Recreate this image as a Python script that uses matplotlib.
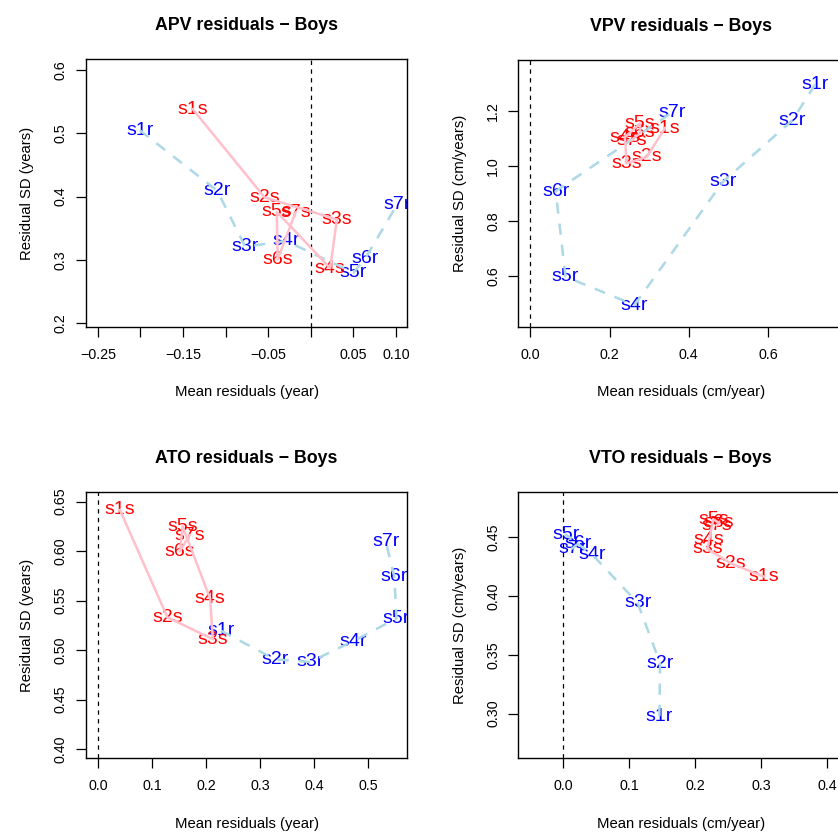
import matplotlib
matplotlib.use("Agg")
import matplotlib.pyplot as plt

plt.rcParams['font.family'] = ['Liberation Sans', 'DejaVu Sans']

labels_r = ["s1r", "s2r", "s3r", "s4r", "s5r", "s6r", "s7r"]
labels_s = ["s1s", "s2s", "s3s", "s4s", "s5s", "s6s", "s7s"]

# APV
apv_r_x = [-0.201, -0.110, -0.077, -0.029, 0.050, 0.064, 0.101]
apv_r_y = [0.505, 0.4095, 0.321, 0.330, 0.280, 0.303, 0.387]
apv_s_x = [-0.1386, -0.0544, 0.0305, 0.0227, -0.040, -0.039, -0.018]
apv_s_y = [0.538, 0.399, 0.364, 0.287, 0.376, 0.301, 0.375]

# VPV
vpv_r_x = [0.719, 0.662, 0.486, 0.263, 0.089, 0.064, 0.358]
vpv_r_y = [1.297, 1.167, 0.942, 0.493, 0.596, 0.908, 1.195]
vpv_s_x = [0.340, 0.294, 0.243, 0.239, 0.277, 0.277, 0.256]
vpv_s_y = [1.138, 1.033, 1.009, 1.105, 1.155, 1.120, 1.094]

# ATO
ato_r_x = [0.227, 0.327, 0.392, 0.472, 0.552, 0.548, 0.532]
ato_r_y = [0.5196, 0.4906, 0.488, 0.509, 0.532, 0.574, 0.610]
ato_s_x = [0.040, 0.128, 0.212, 0.207, 0.156, 0.151, 0.169]
ato_s_y = [0.6416, 0.533, 0.511, 0.552, 0.625, 0.600, 0.616]

# VTO
vto_r_x = [0.1455, 0.1465, 0.1126, 0.044, 0.0035, 0.0227, 0.0126]
vto_r_y = [0.298, 0.343, 0.394, 0.435, 0.452, 0.4446, 0.440]
vto_s_x = [0.304, 0.2535, 0.218, 0.221, 0.227, 0.236, 0.232]
vto_s_y = [0.4163, 0.4277, 0.440, 0.448, 0.465, 0.462, 0.460]

panels = [
    dict(title="APV residuals \u2212 Boys", xlabel="Mean residuals (year)", ylabel="Residual SD (years)",
         rx=apv_r_x, ry=apv_r_y, sx=apv_s_x, sy=apv_s_y,
         xlim=(-0.2639, 0.1128), ylim=(0.1947, 0.6168),
         xticks=[-0.25, -0.20, -0.15, -0.10, -0.05, 0.0, 0.05, 0.10],
         xticklabels=["\u22120.25", "", "\u22120.15", "", "\u22120.05", "", "0.05", "0.10"],
         yticks=[0.2, 0.3, 0.4, 0.5, 0.6], yticklabels=["0.2", "0.3", "0.4", "0.5", "0.6"],
         rect=[86, 59.3, 321, 267.4]),
    dict(title="VPV residuals \u2212 Boys", xlabel="Mean residuals (cm/year)", ylabel="Residual SD (cm/years)",
         rx=vpv_r_x, ry=vpv_r_y, sx=vpv_s_x, sy=vpv_s_y,
         xlim=(-0.0303, 0.790), ylim=(0.414, 1.386),
         xticks=[0.0, 0.2, 0.4, 0.6], xticklabels=["0.0", "0.2", "0.4", "0.6"],
         yticks=[0.6, 0.8, 1.0, 1.2], yticklabels=["0.6", "0.8", "1.0", "1.2"],
         rect=[518.3, 60, 325, 266.7]),
    dict(title="ATO residuals \u2212 Boys", xlabel="Mean residuals (year)", ylabel="Residual SD (years)",
         rx=ato_r_x, ry=ato_r_y, sx=ato_s_x, sy=ato_s_y,
         xlim=(-0.0228, 0.572), ylim=(0.3906, 0.660),
         xticks=[0.0, 0.1, 0.2, 0.3, 0.4, 0.5], xticklabels=["0.0", "0.1", "0.2", "0.3", "0.4", "0.5"],
         yticks=[0.40, 0.45, 0.50, 0.55, 0.60, 0.65],
         yticklabels=["0.40", "0.45", "0.50", "0.55", "0.60", "0.65"],
         rect=[86, 491.7, 321.3, 266.6]),
    dict(title="VTO residuals \u2212 Boys", xlabel="Mean residuals (cm/year)", ylabel="Residual SD (cm/years)",
         rx=vto_r_x, ry=vto_r_y, sx=vto_s_x, sy=vto_s_y,
         xlim=(-0.0682, 0.424), ylim=(0.2621, 0.488),
         xticks=[0.0, 0.1, 0.2, 0.3, 0.4], xticklabels=["0.0", "0.1", "0.2", "0.3", "0.4"],
         yticks=[0.30, 0.35, 0.40, 0.45], yticklabels=["0.30", "0.35", "0.40", "0.45"],
         rect=[518.3, 492.3, 325, 266]),
]

W, H = 838, 833
fig = plt.figure(figsize=(W / 100, H / 100), dpi=100)
fig.patch.set_facecolor("white")

for p in panels:
    l, t, w, h = p["rect"]
    ax = fig.add_axes([l / W, 1 - (t + h) / H, w / W, h / H])
    ax.set_xlim(*p["xlim"])
    ax.set_ylim(*p["ylim"])
    ax.axvline(0, color="black", lw=0.9, linestyle=(0, (3.5, 3.5)), zorder=1)
    for x, y, s in zip(p["rx"], p["ry"], labels_r):
        ax.text(x, y, s, color="blue", fontsize=14, ha="center", va="center", clip_on=True, zorder=2)
    for x, y, s in zip(p["sx"], p["sy"], labels_s):
        ax.text(x, y, s, color="red", fontsize=14, ha="center", va="center", clip_on=True, zorder=2)
    ax.plot(p["rx"], p["ry"], color="lightblue", lw=1.8, linestyle=(0, (4.5, 4.0)), zorder=3)
    ax.plot(p["sx"], p["sy"], color="pink", lw=1.8, linestyle="-", zorder=3)
    ax.set_xticks(p["xticks"])
    ax.set_xticklabels(p["xticklabels"])
    ax.set_yticks(p["yticks"])
    ax.set_yticklabels(p["yticklabels"], rotation=90, va="center")
    ax.tick_params(axis="both", direction="out", length=7, width=0.9, labelsize=10.3, colors="black")
    ax.tick_params(axis="x", pad=8)
    ax.tick_params(axis="y", pad=6)
    for sp in ax.spines.values():
        sp.set_linewidth(1.0)
        sp.set_color("black")
    ax.set_title(p["title"], fontsize=12.8, fontweight="bold", pad=21)
    ax.set_xlabel(p["xlabel"], fontsize=10.7, labelpad=17)
    ax.set_ylabel(p["ylabel"], fontsize=10.7, labelpad=14)

fig.savefig("out.png", dpi=100, facecolor="white")
